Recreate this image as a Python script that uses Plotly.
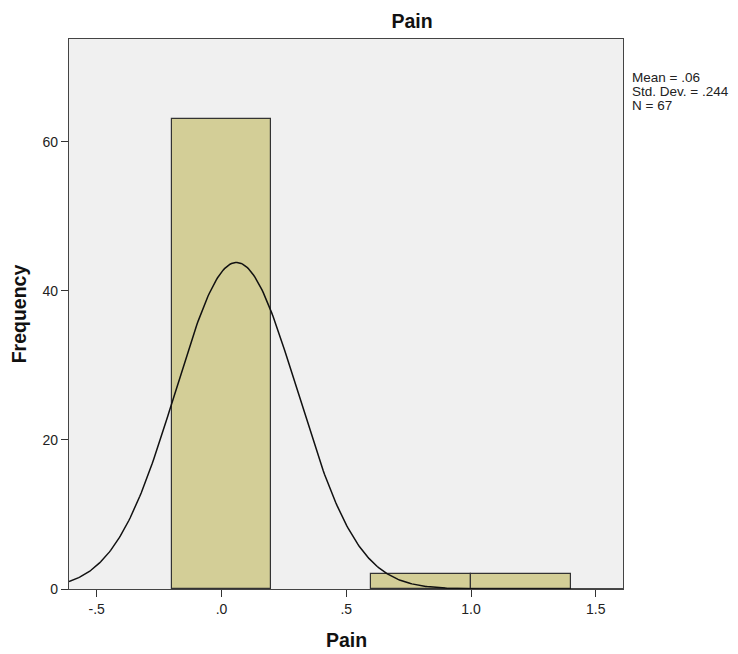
import numpy as np
import plotly.graph_objects as go

# Histogram of Pain scores (bin width 0.4)
bin_centers = [0.0, 0.8, 1.2]
frequencies = [63, 2, 2]
bin_width = 0.4

# Summary statistics
mean_val = 0.06
std_val = 0.244
n_obs = 67

x_tickvals = [-0.5, 0.0, 0.5, 1.0, 1.5]
x_ticktext = ["-.5", ".0", ".5", "1.0", "1.5"]
y_tickvals = [0, 20, 40, 60]

x_range = [-0.611, 1.609]
y_range = [0, 73.8]

FONT = "Liberation Sans, Arial, sans-serif"
BAR_COLOR = "#d3ce97"
EDGE = "#333333"
TITLE_SIZE = 19.5

fig = go.Figure()

fig.add_trace(go.Bar(
    x=bin_centers,
    y=frequencies,
    width=[bin_width] * len(bin_centers),
    marker=dict(color=BAR_COLOR, line=dict(color=EDGE, width=1.2)),
    hoverinfo="x+y",
    showlegend=False,
))

# Normal curve scaled to the histogram counts
xs = np.linspace(x_range[0], x_range[1], 400)
ys = n_obs * bin_width * np.exp(-0.5 * ((xs - mean_val) / std_val) ** 2) / (std_val * np.sqrt(2 * np.pi))
fig.add_trace(go.Scatter(
    x=xs, y=ys, mode="lines",
    line=dict(color="#111111", width=1.5),
    showlegend=False, hoverinfo="skip",
))

# Statistics block: tight 14px line pitch with 13.5px glyphs
stats_lines = [
    f"Mean = {mean_val:.2f}".replace("0.", "."),
    f"Std. Dev. = {std_val:.3f}".replace("0.", "."),
    f"N = {n_obs}",
]
stats_text = "<br>".join(f'<span style="font-size:13.5px">{s}</span>' for s in stats_lines)
fig.add_annotation(
    text=stats_text, xref="paper", yref="paper",
    x=1.0, y=0.948, xanchor="left", yanchor="top", align="left",
    xshift=7, showarrow=False,
    font=dict(family=FONT, size=14 / 1.3, color="#222222"),
)

# X-axis title placed below the tick labels
fig.add_annotation(
    text="<b>Pain</b>", xref="paper", yref="paper",
    x=0.5, y=0, xanchor="center", yanchor="middle",
    yshift=-51, showarrow=False,
    font=dict(family=FONT, size=TITLE_SIZE, color="#111111"),
)

axis_common = dict(
    showline=True, linecolor="#444444", linewidth=1.3, mirror=True,
    ticks="outside", ticklen=7, tickcolor="#333333", tickwidth=1.3,
    showgrid=False, zeroline=False,
    tickfont=dict(family=FONT, size=14, color="#222222"),
)

fig.update_layout(
    width=738, height=654,
    margin=dict(l=68.5, r=115.3, t=39, b=65),
    paper_bgcolor="white",
    plot_bgcolor="#f0f0f0",
    bargap=0,
    title=dict(
        text="<b>Pain</b>", xref="container", yref="container",
        x=412 / 738, xanchor="center", y=1 - 21 / 654, yanchor="middle",
        font=dict(family=FONT, size=TITLE_SIZE, color="#111111"),
    ),
    xaxis=dict(
        range=x_range, tickvals=x_tickvals, ticktext=x_ticktext,
        automargin=False,
        **axis_common,
    ),
    yaxis=dict(
        range=y_range, tickvals=y_tickvals,
        title=dict(text="<b>Frequency</b>", font=dict(family=FONT, size=TITLE_SIZE, color="#111111"), standoff=10),
        **axis_common,
    ),
)

fig.write_html("out.html")
